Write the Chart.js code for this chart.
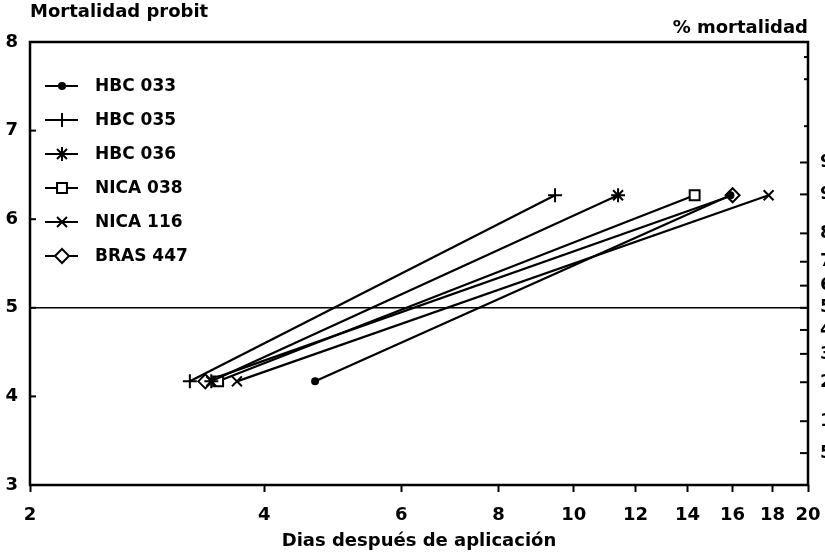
<!DOCTYPE html>
<html>
<head>
<meta charset="utf-8">
<script src="https://cdn.jsdelivr.net/npm/chart.js@4.4.0/dist/chart.umd.min.js"></script>
<style>
  html, body { margin: 0; padding: 0; background: #fff; }
  #wrap { width: 825px; height: 552px; }
</style>
</head>
<body>
<div id="wrap"><canvas id="probitChart" width="825" height="552"></canvas></div>
<script>
const seriesNames = ['HBC 033', 'HBC 035', 'HBC 036', 'NICA 038', 'NICA 116', 'BRAS 447'];
const startDays = [4.65, 3.21, 3.42, 3.49, 3.69, 3.36];
const endDays = [15.9, 9.46, 11.4, 14.3, 17.8, 16.0];
const startProbit = [4.17, 4.17, 4.17, 4.17, 4.17, 4.17];
const endProbit = [6.27, 6.27, 6.27, 6.27, 6.27, 6.27];

const xTicks = [2, 4, 6, 8, 10, 12, 14, 16, 18, 20];
const yTicks = [3, 4, 5, 6, 7, 8];
const pctLabels = [5, 10, 20, 30, 40, 50, 60, 70, 80, 90, 95];
const pctProbits = [3.36, 3.72, 4.16, 4.48, 4.75, 5.0, 5.25, 5.52, 5.84, 6.28, 6.64];
const minorProbits = [7.05, 7.58, 7.83];

// marker styles
const markers = ['circle', 'cross', 'star', 'rect', 'crossRot', 'rectRot'];
const markerSize = [3, 7, 7, 7, 7, 7];
const markerFill = ['#000', '#000', '#000', '#fff', '#000', '#fff'];

const FONT = '"DejaVu Sans", sans-serif';

function line(ctx, x1, y1, x2, y2) {
    ctx.beginPath();
    ctx.moveTo(x1, y1);
    ctx.lineTo(x2, y2);
    ctx.stroke();
}

const framePlugin = {
    id: 'frame',
    afterDraw(chart) {
        const ctx = chart.ctx;
        const a = chart.chartArea;
        ctx.save();
        ctx.strokeStyle = '#000';
        ctx.lineWidth = 2.5;
        ctx.strokeRect(a.left, a.top, a.right - a.left, a.bottom - a.top);

        // ticks pointing into the plot
        ctx.lineWidth = 2;
        [4, 5, 6, 7].forEach(v => {
            const y = chart.scales.y.getPixelForValue(v);
            line(ctx, a.left, y, a.left + 6, y);
        });
        pctProbits.forEach(v => {
            const y = chart.scales.y2.getPixelForValue(v);
            line(ctx, a.right - 8, y, a.right, y);
        });
        minorProbits.forEach(v => {
            const y = chart.scales.y2.getPixelForValue(v);
            line(ctx, a.right - 4, y, a.right, y);
        });

        // axis headings
        ctx.fillStyle = '#000';
        ctx.font = 'bold 18px ' + FONT;
        ctx.textBaseline = 'middle';
        ctx.textAlign = 'left';
        ctx.fillText('Mortalidad probit', a.left, 12);
        ctx.textAlign = 'right';
        ctx.fillText('% mortalidad', a.right, 28);

        // legend inside the plot
        ctx.textAlign = 'left';
        ctx.font = 'bold 17px ' + FONT;
        chart.data.datasets.forEach((ds, i) => {
            const y = a.top + 44 + i * 34;
            ctx.strokeStyle = '#000';
            ctx.lineWidth = 2;
            line(ctx, a.left + 15, y, a.left + 48, y);
            ctx.fillStyle = ds.pointBackgroundColor;
            Chart.helpers.drawPoint(ctx, {
                pointStyle: ds.pointStyle,
                radius: ds.pointRadius,
                rotation: 0,
                borderWidth: 2
            }, a.left + 32, y);
            ctx.fillStyle = '#000';
            ctx.fillText(ds.label, a.left + 65, y + 1);
        });
        ctx.restore();
    }
};

const datasets = seriesNames.map((name, i) => ({
    label: name,
    data: [
        { x: startDays[i], y: startProbit[i] },
        { x: endDays[i], y: endProbit[i] }
    ],
    borderColor: '#000',
    borderWidth: 2.2,
    pointStyle: markers[i],
    pointRadius: markerSize[i],
    pointBackgroundColor: markerFill[i],
    pointBorderColor: '#000',
    pointBorderWidth: 2,
    fill: false,
    tension: 0,
    yAxisID: 'y'
}));

const ctx = document.getElementById('probitChart').getContext('2d');
const probitChart = new Chart(ctx, {
    type: 'line',
    data: { datasets: datasets },
    options: {
        responsive: false,
        animation: false,
        devicePixelRatio: 1,
        layout: { padding: { top: 42, left: 0, right: 0, bottom: 0 } },
        plugins: {
            legend: { display: false },
            tooltip: { enabled: false }
        },
        scales: {
            x: {
                type: 'logarithmic',
                position: 'bottom',
                min: 2,
                max: 20,
                afterBuildTicks: s => { s.ticks = xTicks.map(v => ({ value: v })); },
                afterFit: s => {
                    s.height = 67;
                    s.paddingLeft = 0;
                    s.paddingRight = 0;
                },
                ticks: {
                    callback: v => String(v),
                    autoSkip: false,
                    maxRotation: 0,
                    padding: 13,
                    color: '#000',
                    font: { family: FONT, size: 18, weight: 'bold' }
                },
                grid: {
                    drawOnChartArea: false,
                    drawTicks: true,
                    tickLength: 7,
                    tickColor: '#000',
                    tickWidth: 2
                },
                border: { display: false },
                title: {
                    display: true,
                    text: 'Dias después de aplicación',
                    color: '#000',
                    font: { family: FONT, size: 18, weight: 'bold' },
                    padding: { top: 0, bottom: 0 }
                }
            },
            y: {
                position: 'left',
                min: 3,
                max: 8,
                afterBuildTicks: s => { s.ticks = yTicks.map(v => ({ value: v })); },
                afterFit: s => { s.width = 30; },
                ticks: {
                    padding: 12,
                    color: '#000',
                    font: { family: FONT, size: 18, weight: 'bold' }
                },
                grid: {
                    drawTicks: false,
                    lineWidth: 1.5,
                    color: c => (c.tick && c.tick.value === 5) ? '#000' : 'rgba(0,0,0,0)'
                },
                border: { display: false }
            },
            y2: {
                position: 'right',
                min: 3,
                max: 8,
                afterBuildTicks: s => { s.ticks = pctProbits.map(v => ({ value: v })); },
                afterFit: s => { s.width = 17; },
                ticks: {
                    callback: (v, i) => String(pctLabels[i]),
                    autoSkip: false,
                    padding: 4,
                    color: '#000',
                    font: { family: FONT, size: 18, weight: 'bold' }
                },
                grid: { display: false },
                border: { display: false }
            }
        }
    },
    plugins: [framePlugin]
});
</script>
</body>
</html>
